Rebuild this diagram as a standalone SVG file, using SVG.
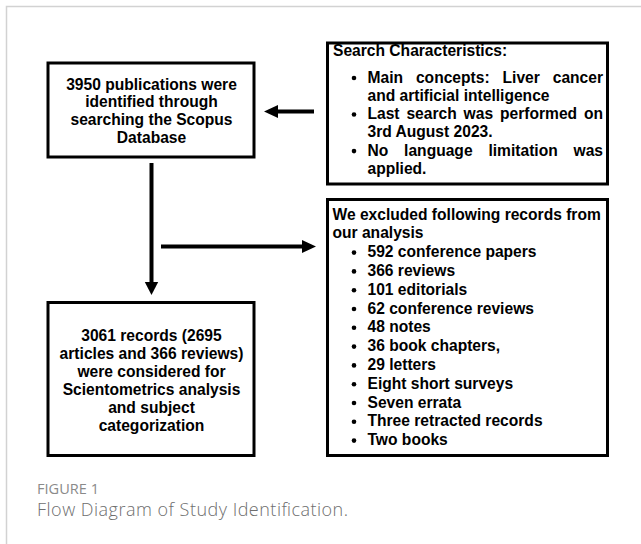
<svg xmlns="http://www.w3.org/2000/svg" width="641" height="544" viewBox="0 0 641 544">
<style>
.box{fill:#fff;stroke:#000;stroke-width:3}
.t{font-family:"Liberation Sans",Arial,Helvetica,sans-serif;font-weight:bold;font-size:15.6px;fill:#000}
.c{text-anchor:middle}
.ln{stroke:#000;stroke-width:4;fill:none}
.hd{fill:#000}
.bul{fill:#000}
.cap{font-family:"Open Sans","Noto Sans",sans-serif}
</style>
<rect x="0" y="0" width="641" height="544" fill="#fff"/>
<rect x="6.5" y="6.5" width="700" height="600" fill="none" stroke="#d2d2d2" stroke-width="1.5"/>

<g id="connectors">
  <line class="ln" x1="314" y1="111.5" x2="276" y2="111.5"/>
  <polygon class="hd" points="264,111.5 278,105 278,118"/>
  <line class="ln" x1="151.5" y1="163" x2="151.5" y2="284"/>
  <polygon class="hd" points="151.5,295 144.8,282 158.2,282"/>
  <line class="ln" x1="161" y1="246.5" x2="304" y2="246.5"/>
  <polygon class="hd" points="316,246.5 302,240 302,253"/>
</g>

<g id="n1">
  <rect class="box" x="48" y="63" width="206" height="94"/>
  <text class="t c" x="151.5" y="89.5">3950 publications were</text>
  <text class="t c" x="151.5" y="107.3">identified through</text>
  <text class="t c" x="151.5" y="125.1">searching the Scopus</text>
  <text class="t c" x="151.5" y="142.9">Database</text>
</g>

<g id="n2">
  <rect class="box" x="327.5" y="43" width="280" height="141"/>
  <text class="t" x="333" y="55.5">Search Characteristics:</text>
  <circle class="bul" cx="354" cy="78" r="2.3"/>
  <text class="t" x="367.5" y="82.5" word-spacing="8.6">Main concepts: Liver cancer</text>
  <text class="t" x="367.5" y="100.8">and artificial intelligence</text>
  <circle class="bul" cx="354" cy="114.5" r="2.3"/>
  <text class="t" x="367.5" y="119" word-spacing="2.55">Last search was performed on</text>
  <text class="t" x="367.5" y="137.3">3rd August 2023.</text>
  <circle class="bul" cx="354" cy="151.1" r="2.3"/>
  <text class="t" x="367.5" y="155.6" word-spacing="11.5">No language limitation was</text>
  <text class="t" x="367.5" y="174">applied.</text>
</g>

<g id="n3">
  <rect class="box" x="327.5" y="199.5" width="280" height="256"/>
  <text class="t" x="332.5" y="219.5">We excluded following records from</text>
  <text class="t" x="332.5" y="238.3">our analysis</text>
  <g>
    <circle class="bul" cx="354" cy="252.6" r="2.3"/>
    <text class="t" x="367.5" y="257.1">592 conference papers</text>
    <circle class="bul" cx="354" cy="271.4" r="2.3"/>
    <text class="t" x="367.5" y="275.9">366 reviews</text>
    <circle class="bul" cx="354" cy="290.2" r="2.3"/>
    <text class="t" x="367.5" y="294.7">101 editorials</text>
    <circle class="bul" cx="354" cy="309" r="2.3"/>
    <text class="t" x="367.5" y="313.5">62 conference reviews</text>
    <circle class="bul" cx="354" cy="327.8" r="2.3"/>
    <text class="t" x="367.5" y="332.3">48 notes</text>
    <circle class="bul" cx="354" cy="346.6" r="2.3"/>
    <text class="t" x="367.5" y="351.1">36 book chapters,</text>
    <circle class="bul" cx="354" cy="365.4" r="2.3"/>
    <text class="t" x="367.5" y="369.9">29 letters</text>
    <circle class="bul" cx="354" cy="384.2" r="2.3"/>
    <text class="t" x="367.5" y="388.7">Eight short surveys</text>
    <circle class="bul" cx="354" cy="403" r="2.3"/>
    <text class="t" x="367.5" y="407.5">Seven errata</text>
    <circle class="bul" cx="354" cy="421.8" r="2.3"/>
    <text class="t" x="367.5" y="426.3">Three retracted records</text>
    <circle class="bul" cx="354" cy="440.6" r="2.3"/>
    <text class="t" x="367.5" y="445.1">Two books</text>
  </g>
</g>

<g id="n4">
  <rect class="box" x="48" y="302.5" width="206" height="153"/>
  <text class="t c" x="151.5" y="340.5">3061 records (2695</text>
  <text class="t c" x="151.5" y="358.5">articles and 366 reviews)</text>
  <text class="t c" x="151.5" y="376.5">were considered for</text>
  <text class="t c" x="151.5" y="394.5">Scientometrics analysis</text>
  <text class="t c" x="151.5" y="412.5">and subject</text>
  <text class="t c" x="151.5" y="430.5">categorization</text>
</g>

<g id="caption">
  <text class="cap" x="37" y="493.5" font-size="14" fill="#8a8a8a" textLength="62" lengthAdjust="spacingAndGlyphs">FIGURE 1</text>
  <text class="cap" x="37" y="516" font-weight="300" font-size="18" fill="#6e6e6e" textLength="311" lengthAdjust="spacing">Flow Diagram of Study Identification.</text>
</g>
</svg>
